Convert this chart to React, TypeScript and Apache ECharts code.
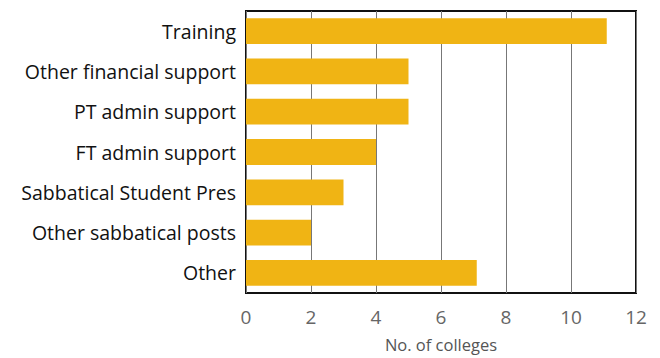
import React, { useEffect, useRef } from "react";
import * as echarts from "echarts";

const categories = [
  "Training",
  "Other financial support",
  "PT admin support",
  "FT admin support",
  "Sabbatical Student Pres",
  "Other sabbatical posts",
  "Other",
];
const values = [11.1, 5, 5, 4, 3, 2, 7.1];
const xTicks = { min: 0, max: 12, interval: 2 };
const xName = "No. of colleges";

export default function App() {
  const ref = useRef<HTMLDivElement>(null);
  useEffect(() => {
    if (!ref.current) return;
    const chart = echarts.init(ref.current, undefined, { renderer: "svg" });
    chart.setOption({
      animation: false,
      grid: {
        left: 246,
        right: 24,
        top: 11,
        bottom: 60,
        containLabel: false,
        show: true,
        borderColor: "#111",
        borderWidth: 2,
        backgroundColor: "transparent",
      },
      xAxis: {
        type: "value",
        min: xTicks.min,
        max: xTicks.max,
        interval: xTicks.interval,
        name: xName,
        nameLocation: "middle",
        nameGap: 43,
        nameTextStyle: { fontFamily: "Open Sans", fontSize: 16.5, color: "#555" },
        axisLine: { show: false },
        axisTick: { show: false },
        axisLabel: { fontFamily: "Open Sans", fontSize: 19, color: "#666", margin: 14 },
        splitLine: { show: true, lineStyle: { color: "#777", width: 1 } },
      },
      yAxis: {
        type: "category",
        data: categories,
        inverse: true,
        axisLine: { show: false },
        axisTick: { show: false },
        axisLabel: { fontFamily: "Open Sans", fontSize: 19.5, color: "#111", margin: 10 },
        splitLine: { show: false },
      },
      series: [
        {
          type: "bar",
          data: values,
          barWidth: "64%",
          itemStyle: { color: "#F0B414" },
        },
      ],
    });
    return () => chart.dispose();
  }, []);
  return <div ref={ref} style={{ width: 660, height: 358, position: "absolute", left: 0, top: 0 }} />;
}
